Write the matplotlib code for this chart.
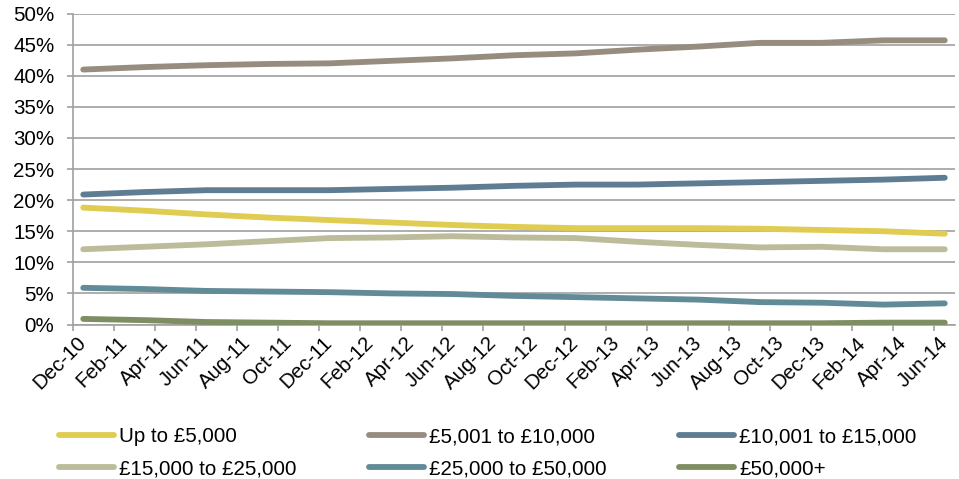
import numpy as np
import matplotlib
matplotlib.use("Agg")
import matplotlib.pyplot as plt
from matplotlib.lines import Line2D

plt.rcParams["font.family"] = ["Liberation Sans", "DejaVu Sans"]

# Month labels on the axis (every second month, Dec-10 .. Jun-14)
month_labels = ["Dec-10", "Feb-11", "Apr-11", "Jun-11", "Aug-11", "Oct-11",
                "Dec-11", "Feb-12", "Apr-12", "Jun-12", "Aug-12", "Oct-12",
                "Dec-12", "Feb-13", "Apr-13", "Jun-13", "Aug-13", "Oct-13",
                "Dec-13", "Feb-14", "Apr-14", "Jun-14"]

# Quarterly observations: Dec-10, Mar-11, Jun-11, ... , Jun-14 (months since Dec-10)
obs_month = [0, 3, 6, 9, 12, 15, 18, 21, 24, 27, 30, 33, 36, 39, 42]

series_names = ["Up to £5,000", "£5,001 to £10,000", "£10,001 to £15,000",
                "£15,000 to £25,000", "£25,000 to £50,000", "£50,000+"]

up_to_5k = [18.8, 18.3, 17.7, 17.2, 16.8, 16.4, 16.0, 15.7, 15.5, 15.5, 15.5, 15.4, 15.2, 15.0, 14.6]
k5_to_10 = [41.0, 41.4, 41.7, 41.9, 42.0, 42.4, 42.8, 43.3, 43.6, 44.2, 44.7, 45.3, 45.3, 45.7, 45.7]
k10_to_15 = [20.9, 21.3, 21.6, 21.6, 21.6, 21.8, 22.0, 22.3, 22.5, 22.5, 22.7, 22.9, 23.1, 23.3, 23.6]
k15_to_25 = [12.1, 12.5, 12.9, 13.4, 13.9, 14.0, 14.2, 14.0, 13.9, 13.3, 12.8, 12.4, 12.5, 12.1, 12.1]
k25_to_50 = [5.9, 5.7, 5.4, 5.3, 5.2, 5.0, 4.9, 4.6, 4.4, 4.2, 4.0, 3.6, 3.5, 3.2, 3.4]
k50_plus = [0.9, 0.7, 0.4, 0.3, 0.2, 0.2, 0.2, 0.2, 0.2, 0.2, 0.2, 0.2, 0.2, 0.3, 0.3]

series_values = [up_to_5k, k5_to_10, k10_to_15, k15_to_25, k25_to_50, k50_plus]
colors = ["#E0CC50", "#978D7F", "#5F7D92", "#BCBB9A", "#628B98", "#7F8D63"]

FS = 14.8
AX_GRAY = "#A0A0A0"

fig = plt.figure(figsize=(9.59, 4.79), dpi=100)
W, H = 959, 479
left, right, top, bottom = 73, 955, 13.6, 324.5
ax = fig.add_axes([left / W, 1 - bottom / H, (right - left) / W, (bottom - top) / H])

# each month occupies one unit; points sit in the middle of their month
x = np.array(obs_month) + 0.5
for name, vals, c in zip(series_names, series_values, colors):
    ax.plot(x, np.array(vals) / 100.0, color=c, lw=4.2, solid_capstyle="round",
            solid_joinstyle="round", zorder=3, label=name)

ax.set_xlim(0, 43)
ax.set_ylim(0, 0.5)

yt = np.arange(0, 0.501, 0.05)
ax.set_yticks(yt, [f"{int(round(v * 100))}%" for v in yt])
ax.yaxis.grid(True, color=AX_GRAY, lw=1.2, zorder=0)
ax.set_axisbelow(True)

ax.set_xticks(np.arange(0, 43, 2), [""] * 22)
ax.set_xticks(np.arange(0, 43, 2) + 0.5, month_labels, minor=True)
ax.tick_params(axis="x", which="minor", length=0, pad=11, labelsize=FS)
ax.tick_params(axis="x", which="major", length=4.5, width=1.2, color=AX_GRAY)
ax.tick_params(axis="y", length=4.5, width=1.2, color=AX_GRAY, pad=9, labelsize=FS)
for lbl in ax.get_xticklabels(minor=True):
    lbl.set_rotation(45)
    lbl.set_ha("right")
    lbl.set_va("center")
    lbl.set_rotation_mode("anchor")

for s in ["top", "right"]:
    ax.spines[s].set_visible(False)
for s in ["left", "bottom"]:
    ax.spines[s].set_color(AX_GRAY)
    ax.spines[s].set_linewidth(1.2)

# legend laid out in two rows of three
col_x = [59, 369, 679]
row_y = [435, 467]
handle_len = 55
for i, (name, c) in enumerate(zip(series_names, colors)):
    r, cidx = divmod(i, 3)
    x0 = col_x[cidx]
    y0 = row_y[r]
    fig.add_artist(Line2D([x0 / W, (x0 + handle_len) / W], [1 - y0 / H, 1 - y0 / H],
                          color=c, lw=4.2, solid_capstyle="round"))
    fig.text((x0 + handle_len + 5) / W, 1 - y0 / H, name, fontsize=FS,
             ha="left", va="center_baseline")

fig.savefig("out.png", dpi=100)
